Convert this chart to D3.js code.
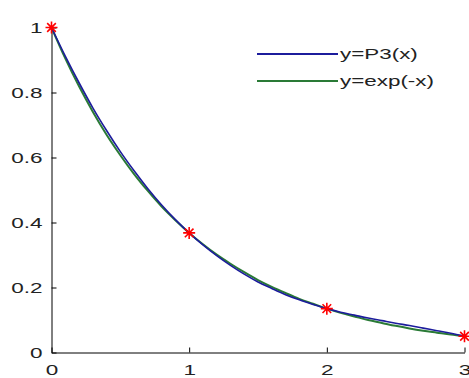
<!DOCTYPE html>
<html>
<head>
<meta charset="utf-8">
<script src="https://cdn.jsdelivr.net/npm/d3@7"></script>
<style>
  html, body { margin: 0; padding: 0; background: #fff; }
  svg text { font-family: "Liberation Sans", Arial, sans-serif; fill: #222; }
</style>
</head>
<body>
<div id="chart"></div>
<script>
// sample positions along x
const xs = [0, 0.1, 0.2, 0.3, 0.4, 0.5, 0.6, 0.7, 0.8, 0.9, 1.0,
            1.1, 1.2, 1.3, 1.4, 1.5, 1.6, 1.7, 1.8, 1.9, 2.0,
            2.1, 2.2, 2.3, 2.4, 2.5, 2.6, 2.7, 2.8, 2.9, 3.0];

// y=P3(x)
const p3Values = [1.000, 0.912, 0.830, 0.753, 0.683, 0.618, 0.559, 0.504, 0.454, 0.409, 0.368,
                  0.331, 0.298, 0.268, 0.241, 0.217, 0.197, 0.178, 0.162, 0.148, 0.135,
                  0.124, 0.115, 0.106, 0.098, 0.090, 0.083, 0.075, 0.067, 0.059, 0.050];

// y=exp(-x)
const expValues = [1.000, 0.905, 0.819, 0.741, 0.670, 0.607, 0.549, 0.497, 0.449, 0.407, 0.368,
                   0.333, 0.301, 0.273, 0.247, 0.223, 0.202, 0.183, 0.165, 0.150, 0.135,
                   0.122, 0.111, 0.100, 0.091, 0.082, 0.074, 0.067, 0.061, 0.055, 0.050];

// red star nodes
const nodeX = [0, 1, 2, 3];
const nodeY = [1.000, 0.368, 0.135, 0.050];

const xTicks = [0, 1, 2, 3];
const yTicks = [0, 0.2, 0.4, 0.6, 0.8, 1];

const seriesNames = ["y=P3(x)", "y=exp(-x)"];
const seriesColors = ["#1c1c9c", "#2a7a36"];

const width = 469, height = 378;

const svg = d3.select("#chart").append("svg")
    .attr("width", width)
    .attr("height", height);

const x = d3.scaleLinear().domain([0, 3]).range([51.5, 464.5]);
const y = d3.scaleLinear().domain([0, 1]).range([352.5, 27.5]);

// widen a text node horizontally (the reference glyphs are drawn wide)
function widen(sel, k) {
    sel.each(function () {
        const w = this.getComputedTextLength();
        d3.select(this)
            .attr("textLength", w * k)
            .attr("lengthAdjust", "spacingAndGlyphs");
    });
}

// axes (MATLAB style: ticks point inward, no box)
const xAxis = svg.append("g")
    .attr("transform", `translate(0, ${y(0)})`)
    .call(d3.axisBottom(x).tickValues(xTicks).tickSizeInner(-5).tickSizeOuter(0)
        .tickFormat(d3.format("d")));
xAxis.select(".domain").attr("stroke", "#000");
xAxis.selectAll(".tick line").attr("stroke", "#000");
xAxis.selectAll(".tick text")
    .attr("y", 12)
    .attr("dy", "0.71em")
    .style("font-size", "15px");

const yAxis = svg.append("g")
    .attr("transform", `translate(${x(0)}, 0)`)
    .call(d3.axisLeft(y).tickValues(yTicks).tickSizeInner(-5).tickSizeOuter(0)
        .tickFormat(d => d === 0 || d === 1 ? d3.format("d")(d) : d3.format(".1f")(d)));
yAxis.select(".domain").attr("stroke", "#000");
yAxis.selectAll(".tick line").attr("stroke", "#000");
yAxis.selectAll(".tick text")
    .attr("x", -9)
    .style("font-size", "15px");
svg.selectAll(".tick text")
    .attr("fill", "#333")
    .attr("font-family", "Liberation Sans, Arial, sans-serif")
    .call(widen, 1.5);

const line = d3.line()
    .x((d, i) => x(xs[i]))
    .y(d => y(d))
    .curve(d3.curveMonotoneX);

// green first, blue drawn over it
svg.append("path")
    .datum(expValues)
    .attr("fill", "none")
    .attr("stroke", seriesColors[1])
    .attr("stroke-width", 2)
    .attr("d", line);

svg.append("path")
    .datum(p3Values)
    .attr("fill", "none")
    .attr("stroke", seriesColors[0])
    .attr("stroke-width", 1.6)
    .attr("d", line);

// asterisk markers
const r = 6, rd = r * 0.72;
const star = `M${-r},0L${r},0M0,${-r}L0,${r}M${-rd},${-rd}L${rd},${rd}M${-rd},${rd}L${rd},${-rd}`;
svg.append("g").selectAll("path")
    .data(nodeX)
    .join("path")
    .attr("transform", (d, i) => `translate(${x(d)}, ${y(nodeY[i])})`)
    .attr("d", star)
    .attr("fill", "none")
    .attr("stroke", "#ff0000")
    .attr("stroke-width", 1.6);

// legend (no box)
const legend = svg.append("g");
seriesNames.forEach((name, i) => {
    const ly = 54 + i * 27;
    legend.append("line")
        .attr("x1", 257).attr("x2", 338)
        .attr("y1", ly).attr("y2", ly)
        .attr("stroke", seriesColors[i])
        .attr("stroke-width", 2);
    legend.append("text")
        .attr("x", 340)
        .attr("y", ly)
        .attr("dy", "0.35em")
        .attr("fill", "#333")
        .style("font-size", "14px")
        .text(name)
        .call(widen, 1.6);
});
</script>
</body>
</html>
